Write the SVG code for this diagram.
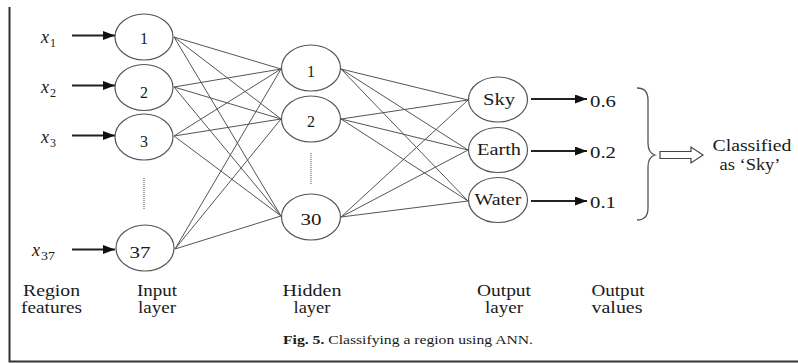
<svg xmlns="http://www.w3.org/2000/svg" width="798" height="363" viewBox="0 0 798 363">
<style>
.bg{fill:#fff}
.frame{fill:none;stroke:#333;stroke-width:2}
.node{fill:#fff;stroke:#555;stroke-width:1.2}
.edge{stroke:#555;stroke-width:1;fill:none}
.arr{stroke:#222;stroke-width:1.8;fill:none}
.dots{stroke:#666;stroke-width:1.2;stroke-dasharray:1 1;fill:none}
text{font-family:"Liberation Serif","Times New Roman",serif;fill:#1a1a1a}
.lbl{font-size:16px;text-anchor:middle}
.nl{font-size:16px;text-anchor:middle}
.val{font-size:16px}
.xv{font-size:18px;font-style:italic}
.sub{font-size:12px;font-style:normal}
.cap{font-size:13px;text-anchor:middle}
</style>
<defs>
<marker id="ah" viewBox="0 0 12 9" refX="12" refY="4.5" markerWidth="12" markerHeight="9" markerUnits="userSpaceOnUse" orient="auto">
<path d="M0,0 L12,4.5 L0,9 Z" fill="#111"/>
</marker>
</defs>
<rect class="bg" x="0" y="0" width="798" height="363"/>
<path class="frame" d="M9.5,7 L9.5,361.5 L798,361.5"/>

<g id="connectors">
<line class="arr" x1="72" y1="35.5" x2="115" y2="35.5" marker-end="url(#ah)"/>
<line class="arr" x1="72" y1="85.5" x2="115" y2="85.5" marker-end="url(#ah)"/>
<line class="arr" x1="72" y1="135.5" x2="115" y2="135.5" marker-end="url(#ah)"/>
<line class="arr" x1="72" y1="249.5" x2="115" y2="249.5" marker-end="url(#ah)"/>
<line class="edge" x1="174" y1="37" x2="281" y2="69"/>
<line class="edge" x1="174" y1="37" x2="281" y2="119"/>
<line class="edge" x1="174" y1="37" x2="281" y2="216"/>
<line class="edge" x1="174" y1="87" x2="281" y2="69"/>
<line class="edge" x1="174" y1="87" x2="281" y2="119"/>
<line class="edge" x1="174" y1="87" x2="281" y2="216"/>
<line class="edge" x1="174" y1="136" x2="281" y2="69"/>
<line class="edge" x1="174" y1="136" x2="281" y2="119"/>
<line class="edge" x1="174" y1="136" x2="281" y2="216"/>
<line class="edge" x1="175" y1="249" x2="281" y2="69"/>
<line class="edge" x1="175" y1="249" x2="281" y2="119"/>
<line class="edge" x1="175" y1="249" x2="281" y2="216"/>
<line class="edge" x1="341" y1="69" x2="468" y2="100"/>
<line class="edge" x1="341" y1="69" x2="468" y2="150"/>
<line class="edge" x1="341" y1="69" x2="468" y2="201"/>
<line class="edge" x1="341" y1="119" x2="468" y2="100"/>
<line class="edge" x1="341" y1="119" x2="468" y2="150"/>
<line class="edge" x1="341" y1="119" x2="468" y2="201"/>
<line class="edge" x1="341" y1="217" x2="468" y2="100"/>
<line class="edge" x1="341" y1="217" x2="468" y2="150"/>
<line class="edge" x1="341" y1="217" x2="468" y2="201"/>
<line class="arr" x1="531" y1="99" x2="587" y2="99" marker-end="url(#ah)"/>
<line class="arr" x1="531" y1="151" x2="587" y2="151" marker-end="url(#ah)"/>
<line class="arr" x1="531" y1="201" x2="587" y2="201" marker-end="url(#ah)"/>
</g>

<g id="inputs-labels">
<text class="xv" x="41" y="43">x<tspan class="sub" dx="1" dy="4">1</tspan></text>
<text class="xv" x="41" y="93">x<tspan class="sub" dx="1" dy="4">2</tspan></text>
<text class="xv" x="41" y="143">x<tspan class="sub" dx="1" dy="4">3</tspan></text>
<text class="xv" x="32" y="256">x<tspan class="sub" dx="1" dy="4" textLength="14" lengthAdjust="spacingAndGlyphs">37</tspan></text>
</g>

<g id="in1"><ellipse class="node" cx="144" cy="37" rx="29" ry="23"/><text class="nl" x="144" y="44">1</text></g>
<g id="in2"><ellipse class="node" cx="144" cy="87.5" rx="29" ry="23"/><text class="nl" x="144" y="98">2</text></g>
<g id="in3"><ellipse class="node" cx="144" cy="137" rx="29" ry="23"/><text class="nl" x="144" y="147">3</text></g>
<g id="in-dots"><line class="dots" x1="144" y1="178" x2="144" y2="210"/></g>
<g id="in37"><ellipse class="node" cx="145" cy="248" rx="29" ry="23"/><text class="nl" x="140" y="258" textLength="21" lengthAdjust="spacingAndGlyphs">37</text></g>

<g id="h1"><ellipse class="node" cx="311" cy="68" rx="29.5" ry="23"/><text class="nl" x="311" y="77">1</text></g>
<g id="h2"><ellipse class="node" cx="311" cy="119" rx="29.5" ry="23"/><text class="nl" x="311" y="127">2</text></g>
<g id="h-dots"><line class="dots" x1="311" y1="153" x2="311" y2="184"/></g>
<g id="h30"><ellipse class="node" cx="311" cy="217" rx="29.5" ry="23"/><text class="nl" x="311" y="225" textLength="21" lengthAdjust="spacingAndGlyphs">30</text></g>

<g id="sky"><ellipse class="node" cx="498" cy="99.5" rx="29.5" ry="22.5"/><text class="nl" x="499" y="105" textLength="32" lengthAdjust="spacingAndGlyphs">Sky</text></g>
<g id="earth"><ellipse class="node" cx="498" cy="150" rx="29.5" ry="22.5"/><text class="nl" x="499" y="155" textLength="44" lengthAdjust="spacingAndGlyphs">Earth</text></g>
<g id="water"><ellipse class="node" cx="498" cy="200" rx="29.5" ry="22.5"/><text class="nl" x="498" y="205" textLength="47" lengthAdjust="spacingAndGlyphs">Water</text></g>

<g id="values">
<text class="val" x="590" y="107" textLength="26" lengthAdjust="spacingAndGlyphs">0.6</text>
<text class="val" x="590" y="158" textLength="26" lengthAdjust="spacingAndGlyphs">0.2</text>
<text class="val" x="590" y="208" textLength="26" lengthAdjust="spacingAndGlyphs">0.1</text>
</g>

<g id="brace">
<path d="M637,88 Q648,88 648,100 L648,143 Q648,153 655,155 Q648,157 648,167 L648,208 Q648,220 637,220" fill="none" stroke="#555" stroke-width="1.3"/>
</g>
<g id="result-arrow">
<polygon points="660,151.5 691,151.5 691,147 703,155 691,163 691,158.5 660,158.5" fill="#fff" stroke="#444" stroke-width="1.2"/>
</g>
<g id="result">
<text class="lbl" x="752" y="151" textLength="79" lengthAdjust="spacingAndGlyphs">Classified</text>
<text class="lbl" x="750" y="170" textLength="61" lengthAdjust="spacingAndGlyphs">as ‘Sky’</text>
</g>

<g id="bottom-labels">
<text class="lbl" x="51.5" y="296" textLength="57" lengthAdjust="spacingAndGlyphs">Region</text>
<text class="lbl" x="51.5" y="313" textLength="61" lengthAdjust="spacingAndGlyphs">features</text>
<text class="lbl" x="157" y="296" textLength="40" lengthAdjust="spacingAndGlyphs">Input</text>
<text class="lbl" x="157" y="313" textLength="38" lengthAdjust="spacingAndGlyphs">layer</text>
<text class="lbl" x="312" y="296" textLength="59" lengthAdjust="spacingAndGlyphs">Hidden</text>
<text class="lbl" x="312" y="313" textLength="37" lengthAdjust="spacingAndGlyphs">layer</text>
<text class="lbl" x="504" y="296" textLength="54" lengthAdjust="spacingAndGlyphs">Output</text>
<text class="lbl" x="504" y="313" textLength="38" lengthAdjust="spacingAndGlyphs">layer</text>
<text class="lbl" x="618" y="296" textLength="53" lengthAdjust="spacingAndGlyphs">Output</text>
<text class="lbl" x="617" y="313" textLength="51" lengthAdjust="spacingAndGlyphs">values</text>
</g>

<g id="caption">
<text class="cap" x="408" y="344" textLength="250" lengthAdjust="spacingAndGlyphs"><tspan font-weight="bold">Fig. 5.</tspan> Classifying a region using ANN.</text>
</g>
</svg>
